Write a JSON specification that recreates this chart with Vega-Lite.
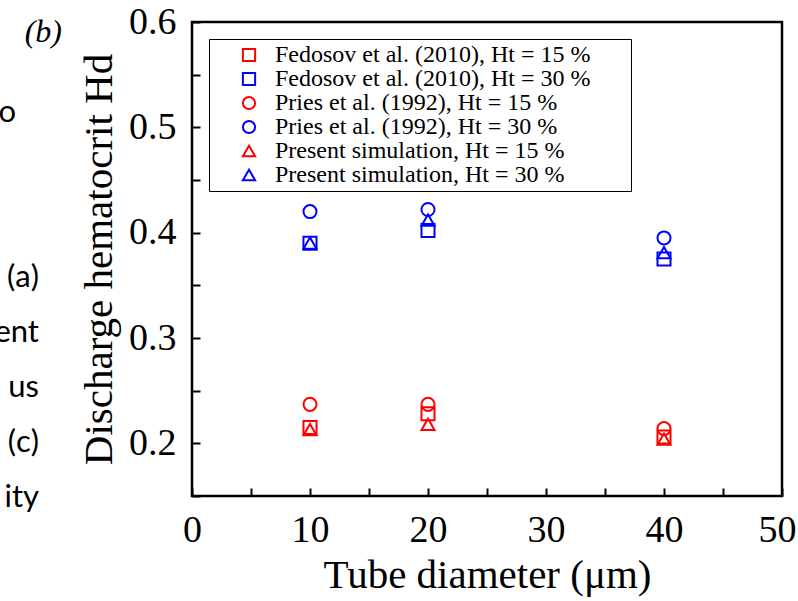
{
  "$schema": "https://vega.github.io/schema/vega-lite/v6.json",
  "width": 590,
  "height": 474,
  "autosize": "none",
  "padding": {"left": 192, "top": 22, "right": 16, "bottom": 105},
  "background": "white",
  "title": {
    "text": "(b)",
    "subtitle": ["o\u2800\u2800", "\u2800", "\u2800", "(a)\u2800", "ent\u2800", "us\u2800", "(c)\u2800", "ity\u2800"],
    "orient": "bottom",
    "anchor": "start",
    "frame": "group",
    "align": "right",
    "dx": -130,
    "offset": -578,
    "font": "Liberation Serif",
    "fontSize": 32,
    "fontStyle": "italic",
    "fontWeight": "normal",
    "color": "black",
    "subtitleFont": "Lato",
    "subtitleFontSize": 31,
    "subtitleColor": "black",
    "subtitleLineHeight": 55,
    "subtitlePadding": 49
  },
  "config": {
    "view": {"stroke": "black", "strokeWidth": 2.5},
    "axis": {
      "grid": false,
      "domain": false,
      "tickColor": "black",
      "tickWidth": 2,
      "tickSize": -8,
      "labelFlush": false,
      "labelFont": "Liberation Serif",
      "labelFontSize": 38,
      "labelColor": "black",
      "titleFont": "Liberation Serif",
      "titleFontWeight": "normal",
      "titleColor": "black"
    }
  },
  "data": {
    "values": [
      {"d": 10, "hd": 0.215, "series": "Fedosov et al. (2010), Ht = 15 %"},
      {"d": 20, "hd": 0.228, "series": "Fedosov et al. (2010), Ht = 15 %"},
      {"d": 40, "hd": 0.206, "series": "Fedosov et al. (2010), Ht = 15 %"},
      {"d": 10, "hd": 0.390, "series": "Fedosov et al. (2010), Ht = 30 %"},
      {"d": 20, "hd": 0.402, "series": "Fedosov et al. (2010), Ht = 30 %"},
      {"d": 40, "hd": 0.375, "series": "Fedosov et al. (2010), Ht = 30 %"},
      {"d": 10, "hd": 0.237, "series": "Pries et al. (1992), Ht = 15 %"},
      {"d": 20, "hd": 0.237, "series": "Pries et al. (1992), Ht = 15 %"},
      {"d": 40, "hd": 0.214, "series": "Pries et al. (1992), Ht = 15 %"},
      {"d": 10, "hd": 0.420, "series": "Pries et al. (1992), Ht = 30 %"},
      {"d": 20, "hd": 0.422, "series": "Pries et al. (1992), Ht = 30 %"},
      {"d": 40, "hd": 0.395, "series": "Pries et al. (1992), Ht = 30 %"},
      {"d": 10, "hd": 0.213, "series": "Present simulation, Ht = 15 %"},
      {"d": 20, "hd": 0.218, "series": "Present simulation, Ht = 15 %"},
      {"d": 40, "hd": 0.204, "series": "Present simulation, Ht = 15 %"},
      {"d": 10, "hd": 0.390, "series": "Present simulation, Ht = 30 %"},
      {"d": 20, "hd": 0.412, "series": "Present simulation, Ht = 30 %"},
      {"d": 40, "hd": 0.381, "series": "Present simulation, Ht = 30 %"}
    ]
  },
  "mark": {"type": "point", "filled": false, "strokeWidth": 2, "size": 170, "opacity": 1},
  "encoding": {
    "x": {
      "field": "d",
      "type": "quantitative",
      "scale": {"domain": [0, 50], "nice": false, "zero": false},
      "axis": {
        "values": [0, 5, 10, 15, 20, 25, 30, 35, 40, 45, 50],
        "labelExpr": "datum.value % 10 === 0 ? datum.label : ''",
        "labelPadding": 23,
        "labelOffset": {"condition": {"test": "datum.value === 50", "value": -5}, "value": 0},
        "title": "Tube diameter (μm)",
        "titleFontSize": 41,
        "titlePadding": 6
      }
    },
    "y": {
      "field": "hd",
      "type": "quantitative",
      "scale": {"domain": [0.15, 0.6], "nice": false, "zero": false},
      "axis": {
        "values": [0.15, 0.2, 0.25, 0.3, 0.35, 0.4, 0.45, 0.5, 0.55, 0.6],
        "labelExpr": "abs(datum.value * 10 - round(datum.value * 10)) < 0.001 ? format(datum.value, '.1f') : ''",
        "labelPadding": 24,
        "title": "Discharge hematocrit Hd",
        "titleFontSize": 41,
        "titlePadding": 8
      }
    },
    "color": {
      "field": "series",
      "type": "nominal",
      "sort": null,
      "scale": {
        "domain": ["Fedosov et al. (2010), Ht = 15 %", "Fedosov et al. (2010), Ht = 30 %", "Pries et al. (1992), Ht = 15 %", "Pries et al. (1992), Ht = 30 %", "Present simulation, Ht = 15 %", "Present simulation, Ht = 30 %"],
        "range": ["#ff0000", "#0000ff", "#ff0000", "#0000ff", "#ff0000", "#0000ff"]
      },
      "legend": {
        "title": null,
        "orient": "none",
        "legendX": 17,
        "legendY": 17,
        "strokeColor": "black",
        "fillColor": "white",
        "padding": 4,
        "symbolOffset": 24,
        "labelOffset": 14,
        "labelLimit": 0,
        "labelExpr": "datum.label + '\u2800\u2800'",
        "rowPadding": 0,
        "labelFont": "Liberation Serif",
        "labelFontSize": 24,
        "labelColor": "black",
        "symbolSize": 150,
        "symbolStrokeWidth": 2
      }
    },
    "shape": {
      "field": "series",
      "type": "nominal",
      "sort": null,
      "scale": {
        "domain": ["Fedosov et al. (2010), Ht = 15 %", "Fedosov et al. (2010), Ht = 30 %", "Pries et al. (1992), Ht = 15 %", "Pries et al. (1992), Ht = 30 %", "Present simulation, Ht = 15 %", "Present simulation, Ht = 30 %"],
        "range": ["square", "square", "circle", "circle", "triangle-up", "triangle-up"]
      }
    },
    "order": {"field": "series", "sort": "ascending"}
  }
}
